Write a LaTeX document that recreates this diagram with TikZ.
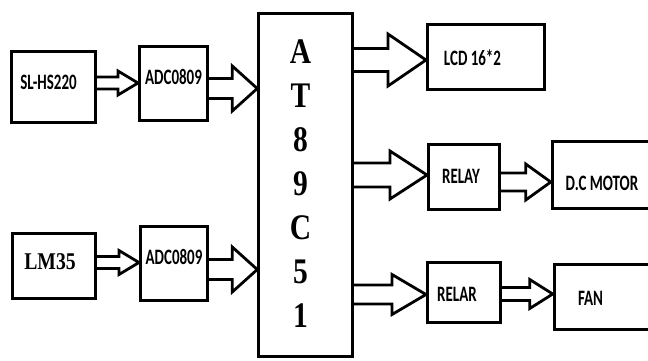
\documentclass[tikz,border=0pt]{standalone}
\usepackage{fontspec}
\newfontfamily\labelfont[FakeStretch=0.68]{Carlito}
\newfontfamily\chipfont[FakeStretch=0.82]{Liberation Serif}
\usetikzlibrary{calc}

\tikzset{
  blk/.style={draw, line width=3pt, rectangle, inner sep=0pt},
  txt/.style={inner sep=0pt, font=\labelfont\bfseries\fontsize{22}{22}\selectfont},
  chip/.style={inner sep=0pt, align=center, font=\chipfont\bfseries\fontsize{36}{44}\selectfont},
  fat/.style={draw, line width=2.8pt, line join=miter},
}

% block arrow: start, target, shaft half width, head half width, head length
\newcommand{\fatarrow}[5]{%
  \draw[fat] let \p1=#1, \p2=#2 in
    (\x1,\y1+#3pt) -- (\x2-#5pt,\y1+#3pt) -- (\x2-#5pt,\y1+#4pt) -- (\x2,\y1)
    -- (\x2-#5pt,\y1-#4pt) -- (\x2-#5pt,\y1-#3pt) -- (\x1,\y1-#3pt);
}

\begin{document}
\begin{tikzpicture}[x=1pt, y=-1pt]

    \useasboundingbox (0,0) rectangle (648,360);

    % Boxes
    \node[blk, minimum width=84pt, minimum height=71pt] (sl) at (53.5,87) {};
    \node[blk, minimum width=68pt, minimum height=74pt] (adcA) at (173.5,83.5) {};
    \node[blk, minimum width=83pt, minimum height=65pt] (lm) at (54,266) {};
    \node[blk, minimum width=67pt, minimum height=74pt] (adcB) at (174,263.5) {};
    \node[blk, line width=2.5pt, minimum width=94pt, minimum height=343pt] (at) at (305.5,185) {};
    \node[blk, minimum width=117pt, minimum height=65pt] (lcd) at (486,57) {};
    \node[blk, minimum width=71pt, minimum height=65pt] (relay) at (464,177) {};
    \node[blk, minimum width=97.5pt, minimum height=67pt] (dc) at (601,175) {};
    \node[blk, minimum width=73pt, minimum height=60pt] (relar) at (464,292.5) {};
    \node[blk, minimum width=95.5pt, minimum height=65pt] (fan) at (602,297) {};

    % Labels
    \node[txt] (slT) at ($(sl)+(-5,-5)$) {SL-HS220};
    \node[txt] (adcAT) at ($(adcA)+(0,-6.5)$) {ADC0809};
    \node[chip, font=\chipfont\bfseries\fontsize{24}{24}\selectfont] (lmT) at ($(lm)+(-4,-4)$) {LM35};
    \node[txt] (adcBT) at ($(adcB)+(0,-6.5)$) {ADC0809};
    \node[chip] (atT) at ($(at)+(-5,-1)$) {A\\T\\8\\9\\C\\5\\1};
    \node[txt] (lcdT) at ($(lcd)+(-13.5,1)$) {LCD 16*2};
    \node[txt] (relayT) at ($(relay)+(-3,-1)$) {RELAY};
    \node[txt] (dcT) at ($(dc)+(1,8.5)$) {D.C MOTOR};
    \node[txt] (relarT) at ($(relar)+(-7,2)$) {RELAR};
    \node[txt] (fanT) at ($(fan)+(-11.5,1)$) {FAN};

    % Arrows
    \fatarrow{($(sl.east)+(0,-4)$)}{(adcA.west)}{6}{12}{20}
    \fatarrow{($(adcA.east)+(0,5)$)}{(at.west)}{10}{22.5}{25}
    \fatarrow{($(lm.east)+(0,-3.5)$)}{(adcB.west)}{6}{12}{20}
    \fatarrow{($(adcB.east)+(0,6)$)}{(at.west)}{10}{22.5}{25}
    \fatarrow{($(at.east |- lcd.west)+(0,3)$)}{(lcd.west)}{11.5}{26}{38}
    \fatarrow{($(at.east |- relay.west)+(0,-2)$)}{(relay.west)}{12}{24}{37}
    \fatarrow{($(relay.east)+(0,5)$)}{(dc.west)}{9}{18}{25}
    \fatarrow{($(at.east |- relar.west)+(0,2)$)}{(relar.west)}{9.5}{20}{34}
    \fatarrow{($(relar.east)+(0,1.5)$)}{(fan.west)}{6.5}{14.5}{23}

\end{tikzpicture}
\end{document}
